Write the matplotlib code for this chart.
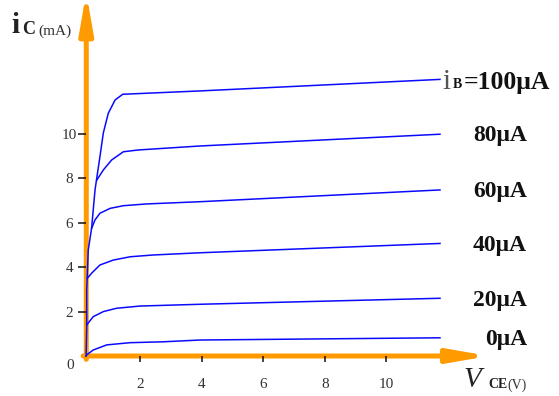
import matplotlib
matplotlib.use("Agg")
import matplotlib.pyplot as plt
from matplotlib.patches import ArrowStyle

# Output characteristics of a common-emitter BJT: collector current vs. V_CE
# for several base currents.
base_labels = ["0μA", "20μA", "40μA", "60μA", "80μA", "=100μA"]

v_0 = [0.25, 0.27, 0.48, 0.92, 1.68, 2.76, 3.95, 11.74]
i_0 = [0.00, 0.05, 0.27, 0.50, 0.60, 0.64, 0.72, 0.82]

v_20 = [0.27, 0.48, 0.81, 1.24, 2.00, 3.95, 11.74]
i_20 = [1.40, 1.77, 2.00, 2.15, 2.25, 2.33, 2.60]

v_40 = [0.29, 0.43, 0.70, 1.13, 1.68, 2.43, 3.95, 11.74]
i_40 = [3.50, 3.73, 4.10, 4.32, 4.47, 4.55, 4.65, 5.07]

v_60 = [0.43, 0.54, 0.70, 1.03, 1.46, 2.22, 3.95, 11.74]
i_60 = [5.75, 6.13, 6.43, 6.65, 6.77, 6.85, 6.95, 7.48]

v_80 = [0.60, 0.81, 1.08, 1.46, 1.94, 3.95, 11.74]
i_80 = [7.93, 8.38, 8.83, 9.20, 9.28, 9.46, 9.99]

v_100 = [0.25, 0.27, 0.27, 0.32, 0.43, 0.54, 0.70, 0.81, 0.97, 1.19, 1.44, 3.95, 11.74]
i_100 = [0.00, 1.30, 2.97, 4.77, 5.77, 7.48, 8.98, 10.05, 10.93, 11.53, 11.79, 11.94, 12.46]

x_ticks = [2, 4, 6, 8, 10]
y_ticks = [2, 4, 6, 8, 10]

curves = [(v_0, i_0), (v_20, i_20), (v_40, i_40),
          (v_60, i_60), (v_80, i_80), (v_100, i_100)]

W, H = 559, 396
fig = plt.figure(figsize=(W / 100, H / 100), dpi=100)
ax = fig.add_axes([0, 0, 1, 1])
ax.set_xlim(-2.545, 15.604)
ax.set_ylim(-1.802, 16.036)

SERIF = ["Liberation Serif", "DejaVu Serif"]
ORANGE = "#ff9a00"
BLUE = "#0a0aff"
y_axis_x = 0.256

# axes drawn as thick orange arrows
head = ArrowStyle("-|>", head_length=23, head_width=4.0)
ax.annotate("", xy=(13.33, 0), xytext=(y_axis_x - 0.1, 0),
            arrowprops=dict(arrowstyle=head, color=ORANGE, lw=3.6,
                            shrinkA=0, shrinkB=0, mutation_scale=1),
            zorder=1, annotation_clip=False)
ax.annotate("", xy=(y_axis_x, 16.38), xytext=(y_axis_x, -0.15),
            arrowprops=dict(arrowstyle=head, color=ORANGE, lw=3.6,
                            shrinkA=0, shrinkB=0, mutation_scale=1),
            zorder=1, annotation_clip=False)

for v, i in curves:
    ax.plot(v, i, color=BLUE, lw=1.1, zorder=3, solid_joinstyle="round")

# ticks sit on the arrow axes
for s in ax.spines.values():
    s.set_color("none")
ax.spines["left"].set_position(("data", y_axis_x))
ax.spines["bottom"].set_position(("data", 0))
ax.set_xticks(x_ticks)
ax.set_xticklabels([str(t) for t in x_ticks])
ax.set_yticks(y_ticks)
ax.set_yticklabels([str(t) for t in y_ticks])
ax.tick_params(axis="x", direction="out", length=4.5, width=1.1,
               color="#111111", pad=11, labelsize=11, labelcolor="#333333")
ax.tick_params(axis="y", direction="out", length=6, width=1.1,
               color="#111111", pad=6, labelsize=11, labelcolor="#333333")
for lbl in ax.get_xticklabels() + ax.get_yticklabels():
    lbl.set_family(SERIF)
for lbl in ax.get_yticklabels():
    lbl.set_horizontalalignment("center")
ax.text(-0.27, -0.45, "0", family=SERIF, fontsize=11, color="#333333",
        ha="center", va="center")


def fx(x):
    return x / W


def fy(y):
    return 1 - y / H


# y-axis title  i_C (mA)
fig.text(fx(11), fy(33), "i", family=SERIF, fontsize=21, weight="bold",
         color="#222222")
fig.text(fx(22), fy(34), "C", family=SERIF, fontsize=13, weight="bold",
         color="#222222")
fig.text(fx(38), fy(35), "(mA)", family=SERIF, fontsize=11, color="#333333")

# x-axis title  V_CE (V)
fig.text(fx(463), fy(387), "V", family=SERIF, fontsize=21, style="italic",
         color="#222222")
fig.text(fx(488), fy(388), "CE", family=SERIF, fontsize=10, weight="bold",
         color="#222222")
fig.text(fx(507), fy(389), "(V)", family=SERIF, fontsize=10, color="#333333")

# base-current labels at the right end of each curve
for (v, i), lab in zip(curves[:-1], base_labels[:-1]):
    ax.text(14.56, i[-1] - 0.08, lab, family=SERIF, fontsize=17, weight="bold",
            color="#111111", ha="right", va="center")

fig.text(fx(442), fy(89), "i", family=SERIF, fontsize=21, color="#555555")
fig.text(fx(453), fy(88), "B", family=SERIF, fontsize=10, weight="bold",
         color="#111111")
fig.text(fx(464), fy(89), base_labels[-1], family=SERIF, fontsize=18.5,
         weight="bold", color="#111111")

fig.savefig("out.png", dpi=100, facecolor="white")
